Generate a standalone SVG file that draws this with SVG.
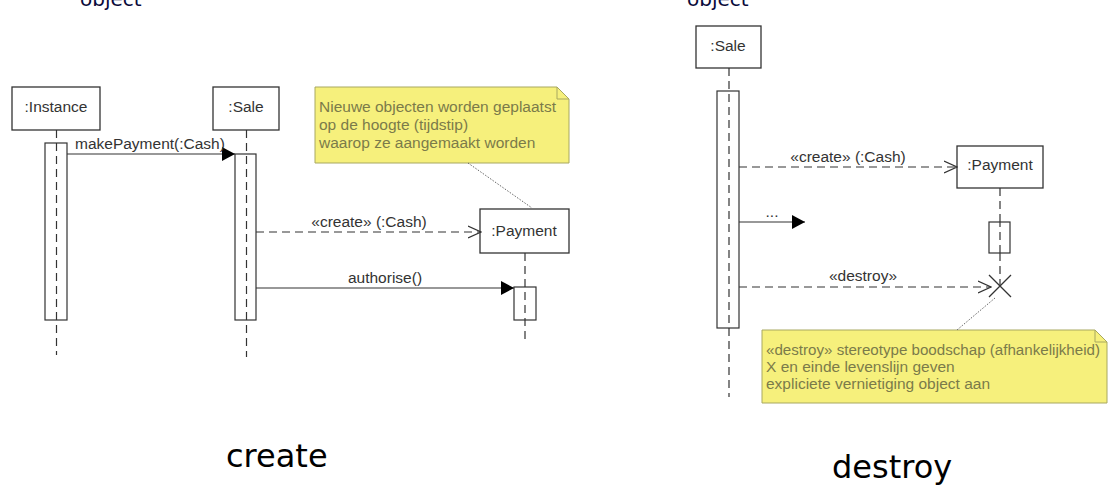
<svg xmlns="http://www.w3.org/2000/svg" width="1108" height="486" viewBox="0 0 1108 486">
<style>
.box{fill:#fff;stroke:#333;stroke-width:1.3}
.act{fill:#fff;stroke:#333;stroke-width:1.2}
.life{stroke:#333;stroke-width:1.2;stroke-dasharray:8 5;fill:none}
.msg{stroke:#333;stroke-width:1.2;fill:none}
.dmsg{stroke:#333;stroke-width:1.2;fill:none;stroke-dasharray:8 5}
.lbl{font-family:"Liberation Sans",Arial,sans-serif;font-size:15.5px;fill:#333}
.note{fill:#f6f07c;stroke:#a8a860;stroke-width:1}
.ntxt{font-family:"Liberation Sans",Arial,sans-serif;font-size:15.5px;fill:#7b7b4a}
.dot{stroke:#666;stroke-width:1;stroke-dasharray:1.5 1.5;fill:none}
.big{font-family:"DejaVu Sans",Verdana,sans-serif;font-size:32px;fill:#000}
.top{font-family:"DejaVu Sans",Verdana,sans-serif;font-size:20px;fill:#0a0a3a}
</style>
<defs>
<marker id="fill" markerWidth="14" markerHeight="14" refX="13" refY="7" orient="auto" markerUnits="userSpaceOnUse">
<path d="M0,0 L13,7 L0,14 Z" fill="#000"/>
</marker>
<marker id="open" markerWidth="14" markerHeight="14" refX="13" refY="7" orient="auto" markerUnits="userSpaceOnUse">
<path d="M0,1 L13,7 L0,13" fill="none" stroke="#333" stroke-width="1.2"/>
</marker>
</defs>
<text class="top" x="80" y="6">object</text>
<text class="top" x="687" y="6">object</text>
<text class="top" x="1095" y="497">n</text>

<g id="instance">
<rect class="box" x="12" y="87" width="88" height="43"/>
<text class="lbl" x="56" y="112" text-anchor="middle">:Instance</text>
<rect class="act" x="45" y="143" width="22" height="177"/>
<line class="life" x1="56.5" y1="130" x2="56.5" y2="355"/>
</g>
<g id="sale1">
<rect class="box" x="213" y="87" width="66" height="43"/>
<text class="lbl" x="246" y="112" text-anchor="middle">:Sale</text>
<rect class="act" x="235" y="154" width="21" height="166"/>
<line class="life" x1="246.5" y1="130" x2="246.5" y2="357"/>
</g>
<g id="payment1">
<rect class="box" x="480" y="209" width="89" height="44"/>
<text class="lbl" x="524" y="236" text-anchor="middle">:Payment</text>
<rect class="act" x="514" y="287" width="22" height="33"/>
<line class="life" x1="525" y1="253" x2="525" y2="343"/>
</g>
<g id="note1">
<path class="note" d="M315,87 H557 L569,99 V163 H315 Z"/>
<path d="M557,87 V99 H569" fill="none" stroke="#a8a860" stroke-width="1"/>
<text class="ntxt" x="319" y="112">Nieuwe objecten worden geplaatst</text>
<text class="ntxt" x="319" y="130">op de hoogte (tijdstip)</text>
<text class="ntxt" x="319" y="148">waarop ze aangemaakt worden</text>
</g>

<g id="sale2">
<rect class="box" x="696" y="26" width="65" height="42"/>
<text class="lbl" x="728" y="51" text-anchor="middle">:Sale</text>
<rect class="act" x="717" y="91" width="22" height="237"/>
<line class="life" x1="729" y1="68" x2="729" y2="397"/>
</g>
<g id="payment2">
<rect class="box" x="957" y="146" width="86" height="42"/>
<text class="lbl" x="1000" y="170" text-anchor="middle">:Payment</text>
<line class="life" x1="1000" y1="188" x2="1000" y2="286"/>
<rect class="act" x="989" y="222" width="21" height="31"/>
<line class="life" x1="1000" y1="222" x2="1000" y2="253" stroke-dashoffset="3"/>
<path d="M989,275 L1011,297 M1011,275 L989,297" stroke="#333" stroke-width="1.3" fill="none"/>
</g>
<g id="note2">
<path class="note" d="M762,330 H1095 L1107,342 V403 H762 Z"/>
<path d="M1095,330 V342 H1107" fill="none" stroke="#a8a860" stroke-width="1"/>
<text class="ntxt" x="766" y="355" textLength="334" lengthAdjust="spacingAndGlyphs">«destroy» stereotype boodschap (afhankelijkheid)</text>
<text class="ntxt" x="766" y="372">X en einde levenslijn geven</text>
<text class="ntxt" x="766" y="389">expliciete vernietiging object aan</text>
</g>

<g id="connectors">
<line class="msg" x1="67" y1="154" x2="235" y2="154" marker-end="url(#fill)"/>
<text class="lbl" x="75" y="149">makePayment(:Cash)</text>
<line class="dmsg" x1="256" y1="232" x2="481" y2="232" marker-end="url(#open)"/>
<text class="lbl" x="369" y="227" text-anchor="middle">«create» (:Cash)</text>
<line class="msg" x1="256" y1="288" x2="514" y2="288" marker-end="url(#fill)"/>
<text class="lbl" x="385" y="283" text-anchor="middle">authorise()</text>
<line class="dot" x1="468" y1="163" x2="532" y2="208"/>

<line class="dmsg" x1="739" y1="167" x2="957" y2="167" marker-end="url(#open)"/>
<text class="lbl" x="848" y="162" text-anchor="middle">«create» (:Cash)</text>
<line class="msg" x1="739" y1="222" x2="805" y2="222" marker-end="url(#fill)"/>
<text class="lbl" x="772" y="217" text-anchor="middle">...</text>
<line class="dmsg" x1="739" y1="287" x2="991" y2="287" marker-end="url(#open)"/>
<text class="lbl" x="863" y="281" text-anchor="middle">«destroy»</text>
<line class="dot" x1="995" y1="298" x2="957" y2="330"/>
</g>

<text class="big" x="226" y="467">create</text>
<text class="big" x="832" y="478">destroy</text>
</svg>
